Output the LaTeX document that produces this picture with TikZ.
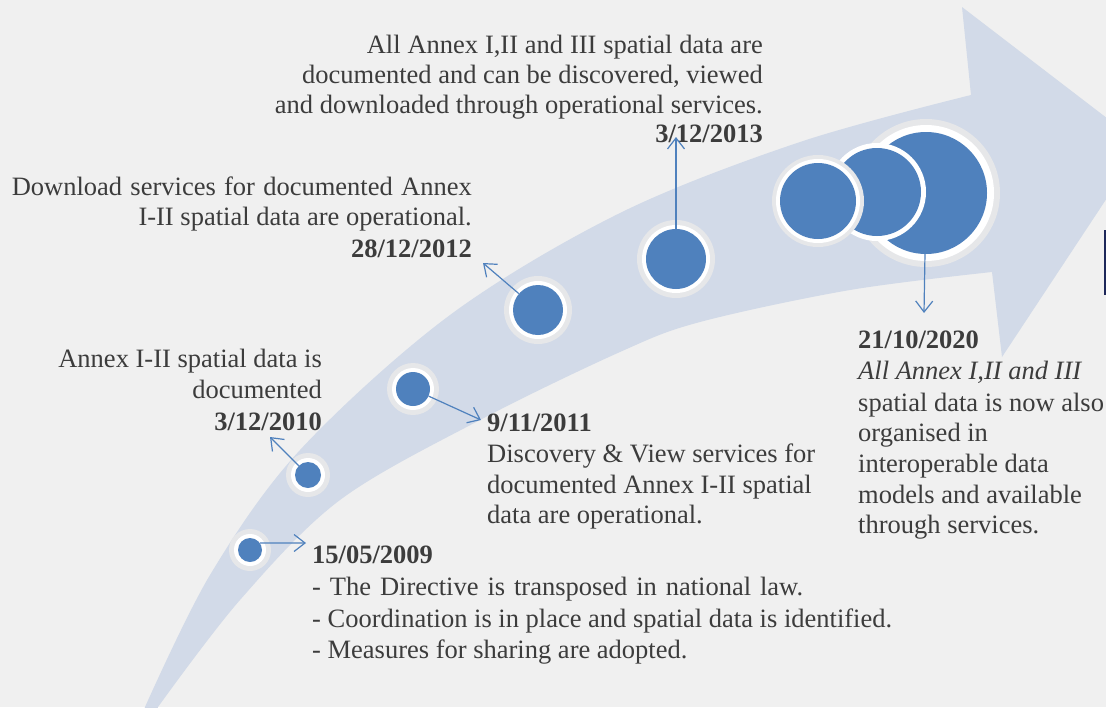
\documentclass[tikz,border=0pt]{standalone}
\usepackage{fontspec}
\setmainfont{Liberation Serif}
\usetikzlibrary{arrows.meta}
\definecolor{bgc}{RGB}{240,240,240}
\definecolor{bandc}{RGB}{210,218,232}
\definecolor{dotc}{RGB}{79,129,189}
\definecolor{glowc}{RGB}{230,231,233}
\definecolor{txtc}{RGB}{60,60,60}
\definecolor{barc}{RGB}{30,40,90}
\tikzset{
  txt/.style={inner sep=0pt, text=txtc, font=\fontsize{26.5}{31}\selectfont},
  le/.style={txt, anchor=base east},
  lw/.style={txt, anchor=base west},
  dot/.style={circle, fill=dotc, inner sep=0pt, minimum size=#1},
  conn/.style={draw=dotc, line width=1.2pt, -{Straight Barb[length=11pt,width=17pt,line width=1.2pt]}},
}
\begin{document}
\begin{tikzpicture}[x=1pt,y=-1pt]
\useasboundingbox (0,0) rectangle (1106,707);
\clip (0,0) rectangle (1106,707);
\fill[bgc] (0,0) rectangle (1106,707);
% band arrow
\fill[bandc] (138,730) -- plot[smooth, tension=0.55] coordinates {(145,707) (210,575) (300,450) (450,315) (620,213) (800,142) (971,95)}
  -- (962,7) -- (1142,145) -- (1002,357) -- (992,272)
  -- plot[smooth, tension=0.55] coordinates {(992,272) (850,290) (700,322) (620,352) (480,420) (340,500) (240,600) (158,707)} -- (152,730) -- cycle;
\fill[barc] (1103.5,230) rectangle (1106,295);
% circles
\foreach \p/\r in {{(250,550)}/12, {(308,475)}/13, {(413,389)}/17, {(538,310)}/25, {(676,259)}/30}{
  \fill[glowc] \p circle ({\r+9});
  \fill[white] \p circle ({\r+4});
}
\node[dot=24pt] (c1) at (250,550) {};
\node[dot=26pt] (c2) at (308,475) {};
\node[dot=34pt] (c3) at (413,389) {};
\node[dot=50pt] (c4) at (538,310) {};
\node[dot=60pt] (c5) at (676,259) {};
\fill[glowc] (926,193) circle (74);
\fill[white] (926,193) circle (68);
\node[dot=122pt] (c8) at (926,193) {};
\fill[white] (877,192) circle (49);
\node[dot=88pt] (c7) at (877,192) {};
\fill[glowc] (818,201) circle (46);
\fill[white] (818,201) circle (42);
\node[dot=76pt] (c6) at (818,201) {};
% texts
\node[le] (t1) at (763,53) {\hbox to 396pt{All Annex I,II and III spatial data are}};
\node[le] (t2) at (763,83) {documented and can be discovered, viewed};
\node[le] (t3) at (763,113) {and downloaded through operational services.};
\node[le] (t4) at (763,142) {\bfseries 3/12/2013};
\node[le] (u1) at (472,195) {\hbox to 460pt{Download services for documented Annex}};
\node[le] (u2) at (472,225) {I-II spatial data are operational.};
\node[le] (u3) at (472,257) {\bfseries 28/12/2012};
\node[le] (m1) at (322,367) {Annex I-II spatial data is};
\node[le] (m2) at (322,398) {documented};
\node[le] (m3) at (322,430) {\bfseries 3/12/2010};
\node[lw] (n1) at (487,431) {\bfseries 9/11/2011};
\node[lw] (n2) at (487,462) {Discovery \& View services for};
\node[lw] (n3) at (487,493) {documented Annex I-II spatial};
\node[lw] (n4) at (487,523) {data are operational.};
\node[lw] (f1) at (312,563) {\bfseries 15/05/2009};
\node[lw] (f2) at (312,595) {\hbox to 491pt{- The Directive is transposed in national law.}};
\node[lw] (f3) at (312,627) {- Coordination is in place and spatial data is identified.};
\node[lw] (f4) at (312,658) {- Measures for sharing are adopted.};
\node[lw] (r1) at (858,348) {\bfseries 21/10/2020};
\node[lw] (r2) at (858,379) {\itshape All Annex I,II and III};
\node[lw] (r3) at (858,411) {spatial data is now also};
\node[lw] (r4) at (858,441) {organised in};
\node[lw] (r5) at (858,472) {interoperable data};
\node[lw] (r6) at (858,503) {models and available};
\node[lw] (r7) at (858,533) {through services.};
% connectors
\coordinate (e1) at (306,543);
\coordinate (e2) at (270,437);
\coordinate (e3) at (481,420);
\coordinate (e4) at (483,263);
\coordinate (e5) at (676,137);
\coordinate (e6) at (924,313);
\draw[conn] (c1.35) -- (e1);
\draw[conn] (c2) -- (e2);
\draw[conn] (c3) -- (e3);
\draw[conn] (c4) -- (e4);
\draw[conn] (c5) -- (e5);
\draw[conn] (c8) -- (e6);
\end{tikzpicture}
\end{document}
